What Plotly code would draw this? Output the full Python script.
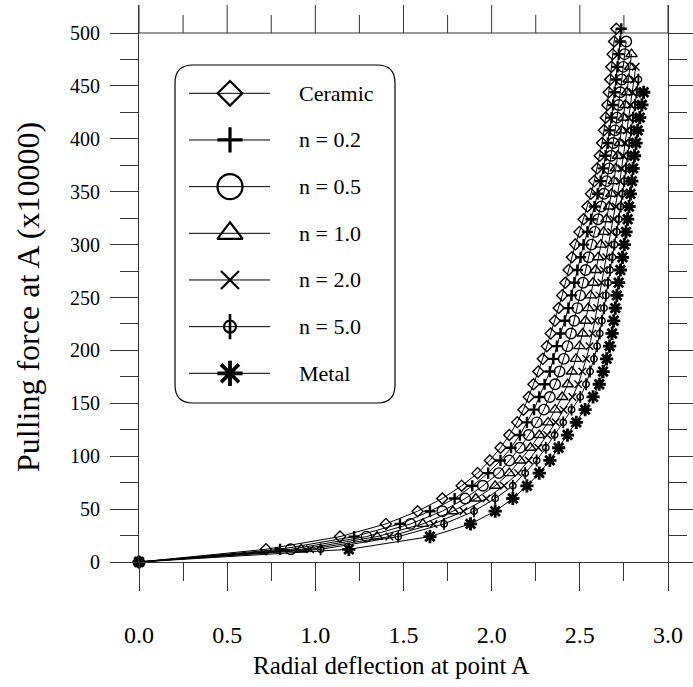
import plotly.graph_objects as go

# ---------------- data ----------------
loads = [0, 12, 24, 36, 48, 60, 72, 84, 96, 108, 120, 132, 144, 156, 168, 180, 192,
         204, 216, 228, 240, 252, 264, 276, 288, 300, 312, 324, 336, 348, 360, 372,
         384, 396, 408, 420, 432, 444, 456, 468, 480, 492, 504]

x_ceramic = [0, 0.72, 1.14, 1.40, 1.58, 1.72, 1.83, 1.92, 1.99, 2.05, 2.10, 2.145, 2.18,
             2.21, 2.237, 2.264, 2.29, 2.313, 2.335, 2.358, 2.38, 2.40, 2.418, 2.436,
             2.455, 2.474, 2.498, 2.521, 2.543, 2.563, 2.582, 2.598, 2.613, 2.626, 2.637,
             2.647, 2.656, 2.664, 2.672, 2.679, 2.686, 2.694, 2.707]

x_n02 = [0, 0.80, 1.22, 1.48, 1.65, 1.79, 1.89, 1.98, 2.05, 2.11, 2.16, 2.20, 2.24,
         2.27, 2.30, 2.33, 2.35, 2.37, 2.39, 2.415, 2.435, 2.453, 2.469, 2.486, 2.504,
         2.521, 2.543, 2.564, 2.583, 2.601, 2.618, 2.633, 2.646, 2.659, 2.669, 2.680,
         2.689, 2.698, 2.706, 2.714, 2.721, 2.729, 2.735]

x_n05 = [0, 0.86, 1.29, 1.54, 1.72, 1.85, 1.95, 2.04, 2.10, 2.16, 2.21, 2.256, 2.296,
         2.33, 2.36, 2.385, 2.409, 2.43, 2.45, 2.468, 2.486, 2.502, 2.518, 2.533, 2.55,
         2.566, 2.585, 2.604, 2.621, 2.637, 2.652, 2.665, 2.678, 2.69, 2.70, 2.711,
         2.721, 2.729, 2.738, 2.746, 2.754, 2.763]

x_n10 = [0, 0.92, 1.35, 1.61, 1.78, 1.91, 2.02, 2.10, 2.16, 2.22, 2.27, 2.32, 2.36,
         2.40, 2.431, 2.455, 2.478, 2.498, 2.516, 2.532, 2.547, 2.561, 2.575, 2.589,
         2.604, 2.619, 2.635, 2.651, 2.666, 2.679, 2.693, 2.704, 2.715, 2.726, 2.736,
         2.747, 2.758, 2.767, 2.776, 2.785, 2.793]

x_n20 = [0, 0.97, 1.42, 1.67, 1.84, 1.97, 2.07, 2.15, 2.21, 2.265, 2.315, 2.363, 2.408,
         2.458, 2.491, 2.514, 2.536, 2.555, 2.572, 2.585, 2.598, 2.611, 2.623, 2.636,
         2.65, 2.663, 2.678, 2.691, 2.703, 2.715, 2.727, 2.737, 2.747, 2.757, 2.767,
         2.778, 2.789, 2.799, 2.808, 2.817]

x_n50 = [0, 1.03, 1.47, 1.73, 1.90, 2.02, 2.12, 2.19, 2.255, 2.307, 2.357, 2.406, 2.453,
         2.502, 2.535, 2.558, 2.58, 2.598, 2.613, 2.625, 2.637, 2.648, 2.66, 2.671,
         2.685, 2.696, 2.709, 2.721, 2.732, 2.742, 2.752, 2.761, 2.771, 2.78, 2.79,
         2.801, 2.813, 2.822, 2.832]

x_metal = [0, 1.19, 1.65, 1.88, 2.02, 2.12, 2.20, 2.27, 2.33, 2.38, 2.43, 2.48, 2.53,
           2.575, 2.61, 2.632, 2.652, 2.669, 2.683, 2.692, 2.701, 2.71, 2.72, 2.73,
           2.742, 2.752, 2.762, 2.771, 2.779, 2.787, 2.795, 2.802, 2.81, 2.819, 2.828,
           2.84, 2.852, 2.862]

names = ["Ceramic", "n = 0.2", "n = 0.5", "n = 1.0", "n = 2.0", "n = 5.0", "Metal"]
x_ticks = [0.0, 0.5, 1.0, 1.5, 2.0, 2.5, 3.0]
x_minor = [0.25, 0.75, 1.25, 1.75, 2.25, 2.75]
x_ticktext = ["0.0", "0.5", "1.0", "1.5", "2.0", "2.5", "3.0"]
y_ticks = [0, 50, 100, 150, 200, 250, 300, 350, 400, 450, 500]
y_minor = [25, 75, 125, 175, 225, 275, 325, 375, 425, 475]
x_title = "Radial deflection at point A"
y_title = "Pulling force at A (x10000)"

# ---------------- style ----------------
FONT = "Liberation Serif"
INK = "black"
AX = "#333333"
W, H = 693, 687
ML, MR, MT, MB = 139, 25, 5, 125
FRAME_TOP = 33                          # pixel row of the y = 500 frame line
PLOT_W = W - ML - MR                    # 529
PLOT_H = H - MB - MT                    # 557
FRAME_POS = (H - MB - FRAME_TOP) / PLOT_H
X_MAX = 3.0
Y_MAX = 500
Y_TOP = Y_MAX / FRAME_POS               # data range reaching the top of the paper box
MAJOR_LEN, MINOR_LEN = 28, 18
PX_TO_Y = Y_TOP / PLOT_H                # data units per pixel on the y axis

series = [x_ceramic, x_n02, x_n05, x_n10, x_n20, x_n50, x_metal]
# (symbol, data size, data line width, legend size, legend line width)
styles = [
    ("diamond-open", 8.5, 1.4, 19, 2.2),
    ("cross-thin-open", 8, 2.4, 18, 3.2),
    ("circle-open", 10.5, 1.4, 25, 2.2),
    ("triangle-up-open", 10, 1.4, 22, 2.2),
    ("x-thin-open", 7.5, 1.4, 18, 2.2),
    ("circle-open", 6.5, 1.4, 12, 2.2),
    ("asterisk-open", 11, 2.8, 21, 3.8),
]

fig = go.Figure()

# ---------------- top frame line (y = 500) with upward ticks ----------------
tx, ty = [0, X_MAX, None], [Y_MAX, Y_MAX, None]
for tv in x_ticks:
    tx += [tv, tv, None]
    ty += [Y_MAX, Y_MAX + MAJOR_LEN * PX_TO_Y, None]
for tv in x_minor:
    tx += [tv, tv, None]
    ty += [Y_MAX, Y_MAX + MINOR_LEN * PX_TO_Y, None]
fig.add_trace(go.Scatter(x=tx, y=ty, mode="lines", line=dict(color=AX, width=1),
                         showlegend=False, hoverinfo="skip", connectgaps=False))

for xs, nm, st in zip(series, names, styles):
    sym, sz, lw, _, _ = st
    ys = loads[:len(xs)]
    fig.add_trace(go.Scatter(
        x=xs, y=ys, mode="lines+markers", name=nm, showlegend=False,
        line=dict(color=INK, width=1),
        marker=dict(symbol=sym, size=sz, color=INK, line=dict(color=INK, width=lw)),
        cliponaxis=False))
    if nm == "n = 5.0":
        fig.add_trace(go.Scatter(
            x=xs, y=ys, mode="markers", showlegend=False, hoverinfo="skip",
            marker=dict(symbol="line-ns-open", size=8.5, color=INK,
                        line=dict(color=INK, width=1.8)),
            cliponaxis=False))

# ---------------- hand-drawn legend (overlay pixel axes) ----------------
leg_x0, leg_x1, leg_y0, leg_y1, rad = 175, 395, 65, 403, 18
row_y0, row_dy = 93.3, 46.67
seg_x0, seg_x1, sym_x, txt_x = 189, 270, 230, 297

p = (f"M {leg_x0+rad},{leg_y0} L {leg_x1-rad},{leg_y0} Q {leg_x1},{leg_y0} {leg_x1},{leg_y0+rad} "
     f"L {leg_x1},{leg_y1-rad} Q {leg_x1},{leg_y1} {leg_x1-rad},{leg_y1} "
     f"L {leg_x0+rad},{leg_y1} Q {leg_x0},{leg_y1} {leg_x0},{leg_y1-rad} "
     f"L {leg_x0},{leg_y0+rad} Q {leg_x0},{leg_y0} {leg_x0+rad},{leg_y0} Z")
fig.add_shape(type="path", path=p, xref="x2", yref="y2",
              line=dict(color=INK, width=1.2), fillcolor="rgba(255,255,255,0)", layer="above")

for k, (nm, st) in enumerate(zip(names, styles)):
    sym, _, _, lsz, llw = st
    ry = row_y0 + k * row_dy
    fig.add_trace(go.Scatter(x=[seg_x0, seg_x1], y=[ry, ry], mode="lines", xaxis="x2", yaxis="y2",
                             line=dict(color=INK, width=1), showlegend=False, hoverinfo="skip",
                             cliponaxis=False))
    fig.add_trace(go.Scatter(x=[sym_x], y=[ry], mode="markers", xaxis="x2", yaxis="y2",
                             marker=dict(symbol=sym, size=lsz, color=INK,
                                         line=dict(color=INK, width=llw)),
                             showlegend=False, hoverinfo="skip", cliponaxis=False))
    if nm == "n = 5.0":
        fig.add_trace(go.Scatter(x=[sym_x], y=[ry], mode="markers", xaxis="x2", yaxis="y2",
                                 marker=dict(symbol="line-ns-open", size=18, color=INK,
                                             line=dict(color=INK, width=2.6)),
                                 showlegend=False, hoverinfo="skip", cliponaxis=False))
    fig.add_annotation(x=txt_x, y=ry, xref="x2", yref="y2", text=nm, showarrow=False,
                       xanchor="left", yanchor="middle",
                       font=dict(family=FONT, size=22, color=INK))

# axis titles as annotations (paper coords)
fig.add_annotation(x=(391 - ML) / PLOT_W, y=(H - MB - 665) / PLOT_H, xref="paper", yref="paper",
                   text=x_title, showarrow=False, xanchor="center", yanchor="middle",
                   font=dict(family=FONT, size=25, color=INK))
fig.add_annotation(x=(28 - ML) / PLOT_W, y=(H - MB - 297) / PLOT_H, xref="paper", yref="paper",
                   text=y_title, showarrow=False, xanchor="center", yanchor="middle", textangle=-90,
                   font=dict(family=FONT, size=32, color=INK))

tick_common = dict(showgrid=False, zeroline=False, showline=True, linecolor=AX, linewidth=1,
                   ticks="outside", ticklen=MAJOR_LEN, tickwidth=1, tickcolor=AX, automargin=False)

fig.update_layout(
    width=W, height=H, margin=dict(l=ML, r=MR, t=MT, b=MB, autoexpand=False),
    paper_bgcolor="white", plot_bgcolor="white", showlegend=False,
    font=dict(family=FONT, size=20, color=INK),
    xaxis=dict(range=[0, X_MAX], tickvals=x_ticks, ticktext=x_ticktext,
               minor=dict(tickvals=x_minor, ticklen=MINOR_LEN, ticks="outside", tickcolor=AX, tickwidth=1),
               tickfont=dict(family=FONT, size=24, color=INK),
               ticklabelstandoff=23, **tick_common),
    yaxis=dict(range=[0, Y_TOP], tickvals=y_ticks, mirror="ticks",
               minor=dict(tickvals=y_minor, ticklen=MINOR_LEN, ticks="outside", tickcolor=AX, tickwidth=1),
               tickfont=dict(family=FONT, size=20, color=INK),
               ticklabelstandoff=6, **tick_common),
    xaxis2=dict(overlaying="x", range=[ML, W - MR], visible=False, automargin=False),
    yaxis2=dict(overlaying="y", range=[H - MB, MT], visible=False, automargin=False),
)

fig.write_html("out.html")
